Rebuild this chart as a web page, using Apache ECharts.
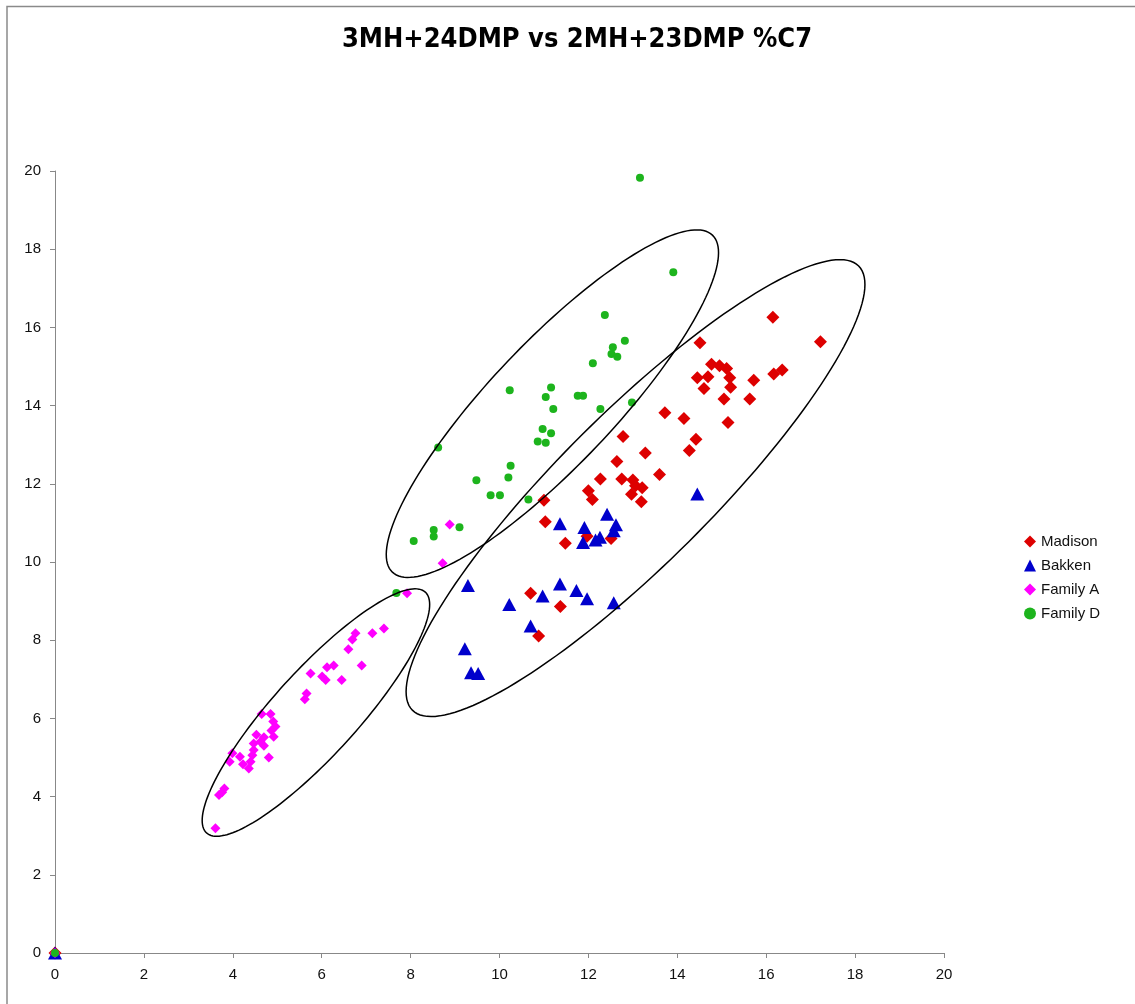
<!DOCTYPE html>
<html>
<head>
<meta charset="utf-8">
<script src="https://cdn.jsdelivr.net/npm/echarts@6/dist/echarts.min.js"></script>
<style>
  html, body { margin: 0; padding: 0; background: #fff; }
  #chart { width: 1135px; height: 1004px; }
</style>
</head>
<body>
<div id="chart"></div>
<script>
// Measured ratios: x = 3MH+24DMP, y = 2MH+23DMP (%C7)
const madison = [
  [0, 0],
  [16.15, 16.26], [17.22, 15.63], [14.51, 15.61], [14.77, 15.06], [14.95, 15.02],
  [15.11, 14.95], [15.18, 14.71], [14.45, 14.71], [14.69, 14.74], [14.60, 14.44],
  [15.20, 14.47], [15.72, 14.65], [16.17, 14.81], [16.36, 14.91], [15.05, 14.17],
  [15.63, 14.17], [15.14, 13.57], [13.72, 13.82], [14.15, 13.67], [14.42, 13.14],
  [14.27, 12.85], [12.78, 13.21], [13.28, 12.79], [12.64, 12.57], [13.60, 12.24],
  [12.27, 12.12], [12.75, 12.12], [13.00, 12.10], [13.06, 11.95], [13.21, 11.90],
  [12.97, 11.73], [13.19, 11.54], [12.00, 11.82], [12.09, 11.60], [11.00, 11.58],
  [11.03, 11.03], [11.48, 10.48], [11.97, 10.66], [12.51, 10.60], [10.70, 9.20],
  [11.37, 8.86], [10.88, 8.11]
];

const bakken = [
  [0, 0],
  [14.45, 11.74], [12.42, 11.22], [11.36, 10.98], [11.91, 10.88], [12.62, 10.95],
  [12.57, 10.80], [11.88, 10.50], [12.16, 10.56], [12.26, 10.63], [9.29, 9.40],
  [11.36, 9.44], [11.73, 9.27], [10.97, 9.13], [11.97, 9.06], [10.22, 8.91],
  [12.57, 8.96], [10.70, 8.36], [9.22, 7.78], [9.36, 7.17], [9.52, 7.15]
];

const familyA = [
  [0, 0],
  [7.92, 9.20], [7.40, 8.30], [7.14, 8.18], [6.76, 8.18], [6.69, 8.02],
  [6.60, 7.77], [6.90, 7.35], [6.27, 7.35], [6.12, 7.31], [5.75, 7.15],
  [6.01, 7.07], [6.09, 6.98], [6.45, 6.98], [5.66, 6.64], [5.62, 6.49],
  [4.65, 6.11], [4.85, 6.11], [4.91, 5.92], [4.96, 5.79], [4.87, 5.69],
  [4.92, 5.53], [4.53, 5.58], [4.70, 5.52], [4.62, 5.40], [4.47, 5.36],
  [4.70, 5.30], [4.47, 5.19], [4.44, 5.06], [4.81, 5.00], [3.99, 5.11],
  [4.16, 5.02], [3.93, 4.89], [4.40, 4.89], [4.23, 4.83], [4.36, 4.72],
  [3.81, 4.21], [3.76, 4.11], [3.69, 4.04], [3.61, 3.19], [8.88, 10.96],
  [8.72, 9.97]
];

const familyD = [
  [0, 0],
  [13.16, 19.83], [13.91, 17.41], [12.37, 16.32], [12.82, 15.66], [12.55, 15.49],
  [12.52, 15.32], [12.65, 15.25], [12.10, 15.08], [10.23, 14.39], [11.16, 14.46],
  [11.04, 14.22], [11.76, 14.25], [11.88, 14.25], [11.21, 13.91], [12.27, 13.91],
  [12.98, 14.08], [10.97, 13.40], [11.16, 13.29], [10.86, 13.08], [11.04, 13.05],
  [8.62, 12.93], [10.25, 12.46], [9.48, 12.09], [10.20, 12.16], [9.80, 11.71],
  [10.01, 11.71], [10.65, 11.60], [8.52, 10.82], [8.52, 10.65], [9.10, 10.89],
  [8.07, 10.54], [7.68, 9.21]
];

// Group outlines: two ends of the long axis (data units) and width/length ratio
const groupOutlines = [
  [3.41, 3.07, 8.33, 9.23, 0.26],
  [7.59, 9.74, 14.79, 18.36, 0.265],
  [8.04, 6.21, 18.08, 17.57, 0.24]
];

const seriesNames = ['Madison', 'Bakken', 'Family A', 'Family D'];
const axisTicks = [0, 2, 4, 6, 8, 10, 12, 14, 16, 18, 20];

const chart = echarts.init(document.getElementById('chart'), null, { renderer: 'canvas' });

const labelFont = {
  fontFamily: '"Liberation Sans", Arial, sans-serif',
  fontSize: 15,
  color: '#111'
};

// Outline of a rotated ellipse, placed through the axis scales
function renderOutline(params, api) {
  const p1 = api.coord([api.value(0), api.value(1)]);
  const p2 = api.coord([api.value(2), api.value(3)]);
  const ratio = api.value(4);
  const cx = (p1[0] + p2[0]) / 2;
  const cy = (p1[1] + p2[1]) / 2;
  const dx = p2[0] - p1[0];
  const dy = p2[1] - p1[1];
  const a = Math.sqrt(dx * dx + dy * dy) / 2;
  const b = a * ratio;
  const ux = dx / (2 * a), uy = dy / (2 * a);
  const vx = -uy, vy = ux;
  const pts = [];
  const n = 160;
  for (let i = 0; i < n; i++) {
    const t = (i / n) * Math.PI * 2;
    const ca = Math.cos(t) * a, sb = Math.sin(t) * b;
    pts.push([cx + ux * ca + vx * sb, cy + uy * ca + vy * sb]);
  }
  return {
    type: 'polygon',
    shape: { points: pts },
    style: { fill: 'none', stroke: '#000', lineWidth: 1.5 },
    silent: true
  };
}

const option = {
  backgroundColor: '#fff',
  animation: false,
  title: {
    text: '3MH+24DMP vs 2MH+23DMP %C7',
    left: 572,
    textAlign: 'center',
    top: 21,
    textStyle: {
      fontFamily: '"Liberation Sans Narrow", "DejaVu Sans Condensed", Arial, sans-serif',
      fontWeight: 'bold',
      fontSize: 27,
      color: '#000'
    }
  },
  legend: {
    orient: 'vertical',
    left: 1019,
    top: 529,
    itemWidth: 12,
    itemHeight: 12,
    itemGap: 9,
    data: seriesNames,
    textStyle: Object.assign({}, labelFont, { lineHeight: 15 })
  },
  grid: { left: 55, right: 191, top: 171, bottom: 51, containLabel: false },
  xAxis: {
    type: 'value',
    min: axisTicks[0],
    max: axisTicks[axisTicks.length - 1],
    interval: 2,
    axisLine: { lineStyle: { color: '#888', width: 1 } },
    axisTick: { show: true, inside: false, length: 5, lineStyle: { color: '#888' } },
    splitLine: { show: false },
    axisLabel: Object.assign({ margin: 14 }, labelFont)
  },
  yAxis: {
    type: 'value',
    min: axisTicks[0],
    max: axisTicks[axisTicks.length - 1],
    interval: 2,
    axisLine: { show: true, lineStyle: { color: '#888', width: 1 } },
    axisTick: { show: true, inside: false, length: 5, lineStyle: { color: '#888' } },
    splitLine: { show: false },
    axisLabel: Object.assign({ margin: 14 }, labelFont)
  },
  graphic: [{
    type: 'rect',
    silent: true,
    shape: { x: 7, y: 6.5, width: 1200, height: 1100 },
    style: { fill: 'none', stroke: '#8a8a8a', lineWidth: 1.5 }
  }],
  series: [
    {
      name: 'Madison', type: 'scatter', data: madison,
      symbol: 'diamond', symbolSize: [13, 13],
      itemStyle: { color: '#dd0000', opacity: 1 }, z: 2
    },
    {
      name: 'Bakken', type: 'scatter', data: bakken,
      symbol: 'triangle', symbolSize: [14, 13],
      itemStyle: { color: '#0000cc', opacity: 1 }, z: 3
    },
    {
      name: 'Family A', type: 'scatter', data: familyA,
      symbol: 'diamond', symbolSize: [10, 10],
      itemStyle: { color: '#ff00ff', opacity: 1 }, z: 4
    },
    {
      name: 'Family D', type: 'scatter', data: familyD,
      symbol: 'circle', symbolSize: 8,
      itemStyle: { color: '#1db41d', opacity: 1 }, z: 5
    },
    {
      name: 'outline', type: 'custom', data: groupOutlines,
      renderItem: renderOutline,
      encode: { x: [0, 2], y: [1, 3] },
      silent: true, z: 6, tooltip: { show: false }
    }
  ]
};

chart.setOption(option);
</script>
</body>
</html>
